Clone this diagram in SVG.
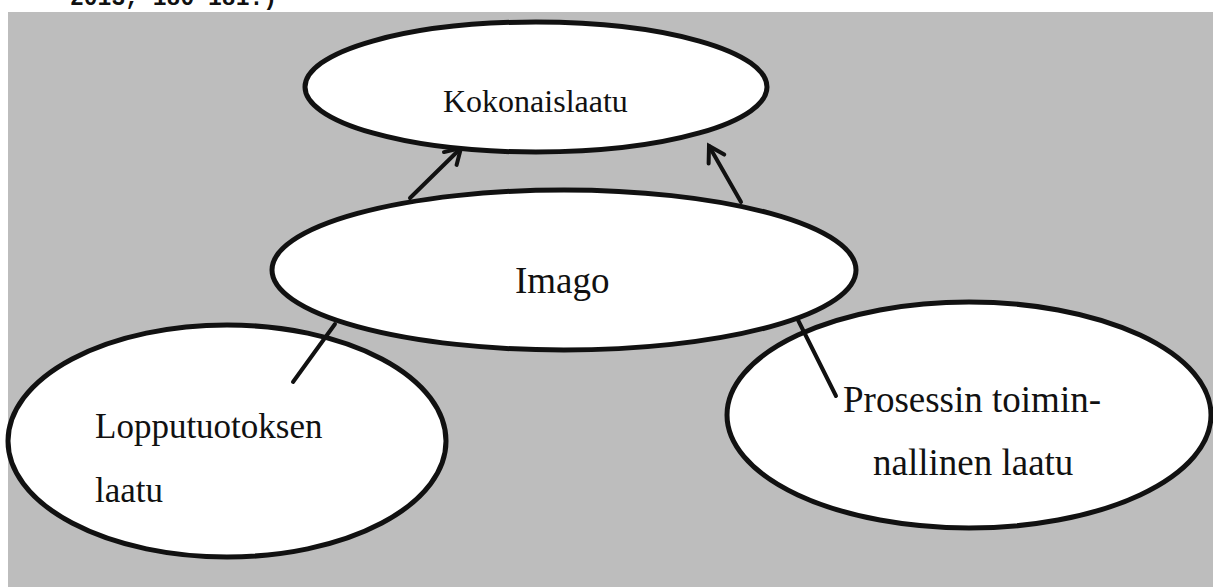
<svg xmlns="http://www.w3.org/2000/svg" width="1213" height="587" viewBox="0 0 1213 587">
  <defs>
    <style>
      .node { fill: #ffffff; stroke: #111111; stroke-width: 5; }
      .label { font-family: "Liberation Serif", "Times New Roman", serif; fill: #111111; }
      .link { stroke: #111111; stroke-width: 4; fill: none; stroke-linecap: round; }
    </style>
    <marker id="arrow" markerUnits="userSpaceOnUse" markerWidth="30" markerHeight="30" refX="0" refY="0" viewBox="-20 -15 30 30" orient="auto" overflow="visible">
      <path d="M-15,-9 L0,0 L-15,9" fill="none" stroke="#111111" stroke-width="4" stroke-linecap="round" stroke-linejoin="miter"/>
    </marker>
  </defs>

  <rect x="0" y="0" width="1213" height="587" fill="#ffffff"/>
  <!-- trailing line of the citation above the figure -->
  <text x="70" y="5" font-family="Liberation Mono, monospace" font-weight="bold" font-size="23" fill="#111111">2013, 180-181.)</text>

  <!-- figure background -->
  <rect x="8" y="12" width="1205" height="575" fill="#bdbdbd"/>

  <g id="connectors">
    <line class="link" x1="410" y1="198" x2="461" y2="148" marker-end="url(#arrow)"/>
    <line class="link" x1="741" y1="202" x2="709" y2="146" marker-end="url(#arrow)"/>
  </g>

  <g id="kokonaislaatu">
    <ellipse class="node" cx="536" cy="87" rx="231" ry="65"/>
    <text class="label" x="443" y="112" font-size="32">Kokonaislaatu</text>
  </g>

  <g id="lopputuotoksen-laatu">
    <ellipse class="node" cx="227" cy="441" rx="219" ry="116"/>
    <text class="label" x="95" y="438" font-size="35">Lopputuotoksen</text>
    <text class="label" x="95" y="502" font-size="35">laatu</text>
  </g>

  <g id="prosessin-laatu">
    <ellipse class="node" cx="969" cy="415" rx="242" ry="113"/>
    <text class="label" x="843" y="412" font-size="37">Prosessin toimin-</text>
    <text class="label" x="873" y="475" font-size="37">nallinen laatu</text>
  </g>

  <g id="imago">
    <ellipse class="node" cx="564" cy="270" rx="292" ry="80"/>
    <text class="label" x="515" y="293" font-size="37">Imago</text>
  </g>

  <g id="connectors-lower">
    <line class="link" x1="335" y1="324" x2="293" y2="382"/>
    <line class="link" x1="798" y1="320" x2="836" y2="396"/>
  </g>
</svg>
